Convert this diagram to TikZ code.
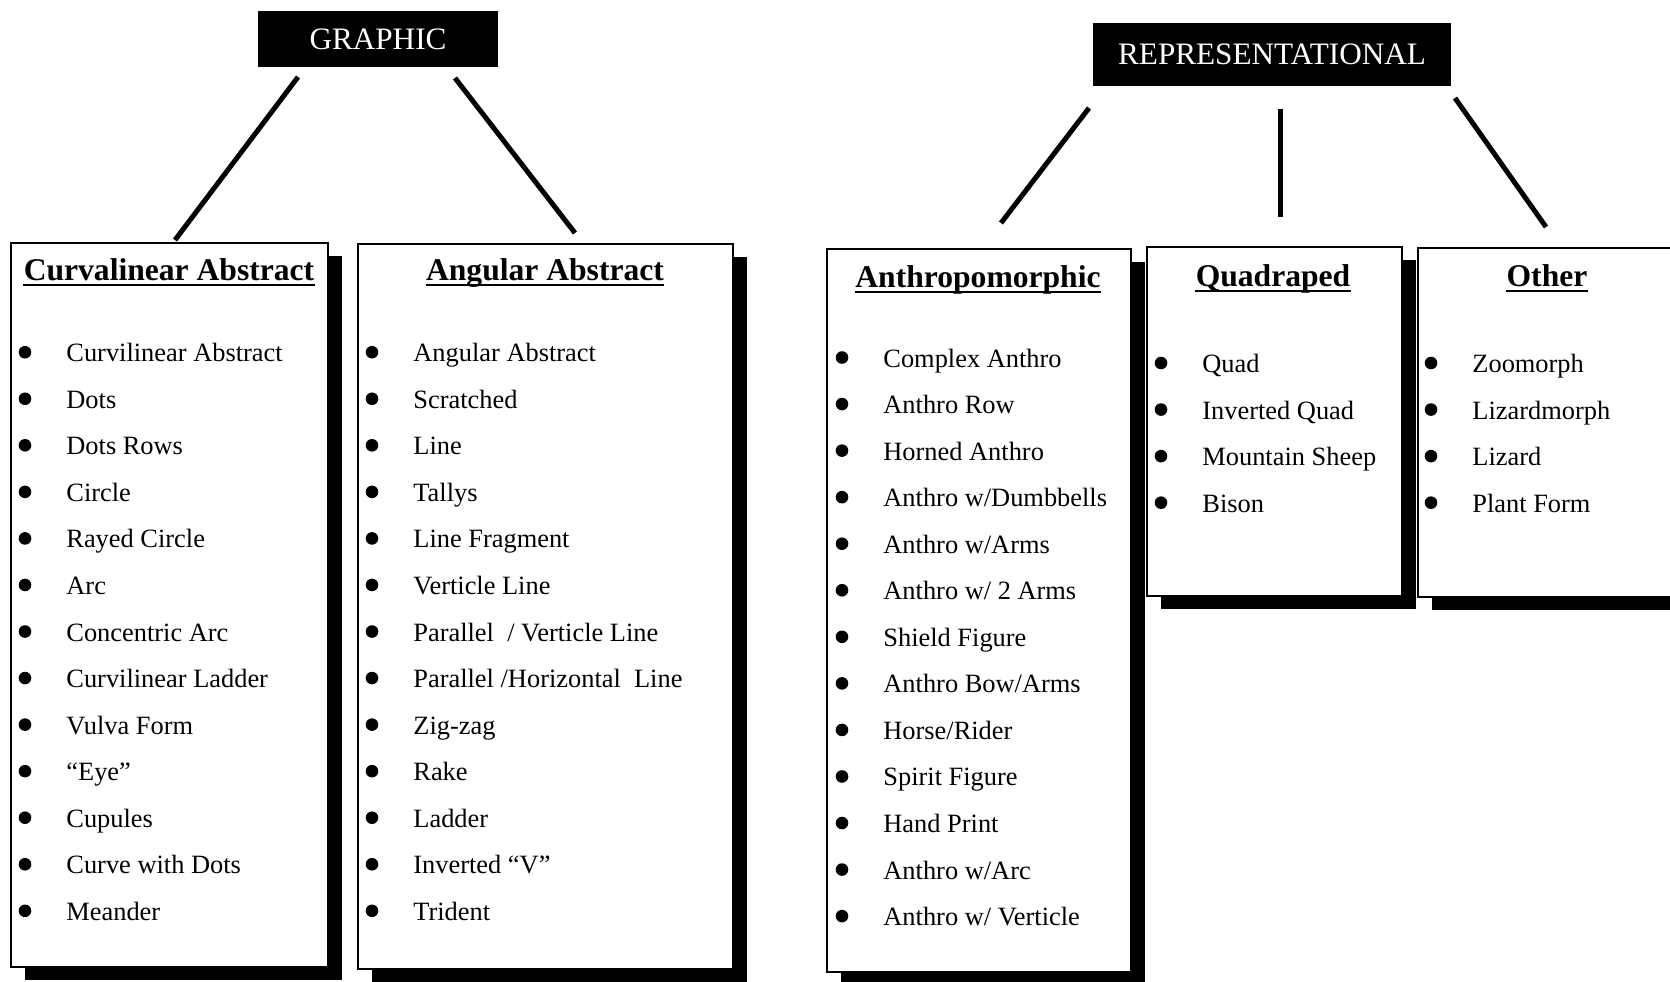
\documentclass[tikz,border=0pt]{standalone}
\usepackage{fontspec}
\setmainfont{Liberation Serif}
\usetikzlibrary{shadows,fit}

\begin{document}
\begin{tikzpicture}[x=0.5pt,y=-0.5pt]
			\tikzstyle{trait}=[line width=2.5pt]
			\tikzstyle{souligne}=[line width=1pt]
			\tikzstyle{categorie}=[fill=black,inner sep=0]
			\tikzstyle{nomcategorie}=[text=white,inner sep=0,font=\fontsize{15.6}{18}\selectfont]
			\tikzstyle{boite}=[draw,line width=1pt,fill=white,inner sep=0,drop shadow={shadow xshift=7pt,shadow yshift=-6.5pt,fill=black,opacity=1}]
			\tikzstyle{titre}=[anchor=base,inner sep=0,font=\fontsize{15.8}{18}\selectfont\bfseries]
			\tikzstyle{element}=[anchor=base west,inner sep=0,text height=9.5pt,text depth=0pt,font=\fontsize{13.2}{16}\selectfont,label={[circle,fill=black,inner sep=0,minimum size=6.3pt,anchor=center,xshift=-20.5pt]west:}]
			\useasboundingbox (0,0) rectangle (1670,981);
			\def\ColA{66}
			\def\ColB{413}
			\def\ColC{883}
			\def\ColD{1202}
			\def\ColE{1472}
			\def\LigneA{361.7}
			\def\LigneB{367}
			\def\LigneC{372.5}
			\def\Pas{46.55}
			% categories
			\node[categorie,fit={(258,11) (498,67)}] (graphic) {};
			\node[nomcategorie] (tgraphic) at (graphic.center) {GRAPHIC};
			\node[categorie,fit={(1093,23) (1451,86)}] (repres) {};
			\node[nomcategorie] (trepres) at (repres.center) {REPRESENTATIONAL};
			% boites
			\node[boite,fit={(11,243) (328,967)}] (curv) {};
			\node[boite,fit={(358,244) (733,969)}] (angu) {};
			\node[boite,fit={(827,249) (1131,972)}] (anthro) {};
			\node[boite,fit={(1147,247) (1402,596)}] (quad) {};
			\node[boite,fit={(1418,248) (1720,597)}] (autre) {};
			% traits
			\coordinate (graphic-g) at (298,77);
			\coordinate (graphic-d) at (455,78);
			\coordinate (curv-h) at (175,240);
			\coordinate (angu-h) at (575,233);
			\coordinate (repres-g) at (1089,108);
			\coordinate (repres-m) at (1280,109);
			\coordinate (repres-d) at (1455,98);
			\coordinate (anthro-h) at (1001,223);
			\coordinate (quad-h) at (1280,217);
			\coordinate (autre-h) at (1546,227);
			\draw[trait] (graphic-g)--(curv-h);
			\draw[trait] (graphic-d)--(angu-h);
			\draw[trait] (repres-g)--(anthro-h);
			\draw[trait] (repres-m)--(quad-h);
			\draw[trait] (repres-d)--(autre-h);
			% titres
			\node[titre] (tcurv) at (169,280) {Curvalinear Abstract};
			\node[titre] (tangu) at (545,280) {Angular Abstract};
			\node[titre] (tanthro) at (978,287) {Anthropomorphic};
			\node[titre] (tquad) at (1273,286) {Quadraped};
			\node[titre] (tautre) at (1547,286) {Other};
			\draw[souligne] ([yshift=-2.3pt]tcurv.base west)--([yshift=-2.3pt]tcurv.base east);
			\draw[souligne] ([yshift=-2.3pt]tangu.base west)--([yshift=-2.3pt]tangu.base east);
			\draw[souligne] ([yshift=-2.3pt]tanthro.base west)--([yshift=-2.3pt]tanthro.base east);
			\draw[souligne] ([yshift=-2.3pt]tquad.base west)--([yshift=-2.3pt]tquad.base east);
			\draw[souligne] ([yshift=-2.3pt]tautre.base west)--([yshift=-2.3pt]tautre.base east);
			% curvalinear
			\node[element] (curv1) at ({\ColA},{\LigneA+(0)*\Pas}) {Curvilinear Abstract};
			\node[element] (curv2) at ({\ColA},{\LigneA+(1)*\Pas}) {Dots};
			\node[element] (curv3) at ({\ColA},{\LigneA+(2)*\Pas}) {Dots Rows};
			\node[element] (curv4) at ({\ColA},{\LigneA+(3)*\Pas}) {Circle};
			\node[element] (curv5) at ({\ColA},{\LigneA+(4)*\Pas}) {Rayed Circle};
			\node[element] (curv6) at ({\ColA},{\LigneA+(5)*\Pas}) {Arc};
			\node[element] (curv7) at ({\ColA},{\LigneA+(6)*\Pas}) {Concentric Arc};
			\node[element] (curv8) at ({\ColA},{\LigneA+(7)*\Pas}) {Curvilinear Ladder};
			\node[element] (curv9) at ({\ColA},{\LigneA+(8)*\Pas}) {Vulva Form};
			\node[element] (curv10) at ({\ColA},{\LigneA+(9)*\Pas}) {“Eye”};
			\node[element] (curv11) at ({\ColA},{\LigneA+(10)*\Pas}) {Cupules};
			\node[element] (curv12) at ({\ColA},{\LigneA+(11)*\Pas}) {Curve with Dots};
			\node[element] (curv13) at ({\ColA},{\LigneA+(12)*\Pas}) {Meander};
			% angular
			\node[element] (angu1) at ({\ColB},{\LigneA+(0)*\Pas}) {Angular Abstract};
			\node[element] (angu2) at ({\ColB},{\LigneA+(1)*\Pas}) {Scratched};
			\node[element] (angu3) at ({\ColB},{\LigneA+(2)*\Pas}) {Line};
			\node[element] (angu4) at ({\ColB},{\LigneA+(3)*\Pas}) {Tallys};
			\node[element] (angu5) at ({\ColB},{\LigneA+(4)*\Pas}) {Line Fragment};
			\node[element] (angu6) at ({\ColB},{\LigneA+(5)*\Pas}) {Verticle Line};
			\node[element] (angu7) at ({\ColB},{\LigneA+(6)*\Pas}) {Parallel~~/ Verticle Line};
			\node[element] (angu8) at ({\ColB},{\LigneA+(7)*\Pas}) {Parallel /Horizontal~~Line};
			\node[element] (angu9) at ({\ColB},{\LigneA+(8)*\Pas}) {Zig-zag};
			\node[element] (angu10) at ({\ColB},{\LigneA+(9)*\Pas}) {Rake};
			\node[element] (angu11) at ({\ColB},{\LigneA+(10)*\Pas}) {Ladder};
			\node[element] (angu12) at ({\ColB},{\LigneA+(11)*\Pas}) {Inverted “V”};
			\node[element] (angu13) at ({\ColB},{\LigneA+(12)*\Pas}) {Trident};
			% anthropomorphic
			\node[element] (anthro1) at ({\ColC},{\LigneB+(0)*\Pas}) {Complex Anthro};
			\node[element] (anthro2) at ({\ColC},{\LigneB+(1)*\Pas}) {Anthro Row};
			\node[element] (anthro3) at ({\ColC},{\LigneB+(2)*\Pas}) {Horned Anthro};
			\node[element] (anthro4) at ({\ColC},{\LigneB+(3)*\Pas}) {Anthro w/Dumbbells};
			\node[element] (anthro5) at ({\ColC},{\LigneB+(4)*\Pas}) {Anthro w/Arms};
			\node[element] (anthro6) at ({\ColC},{\LigneB+(5)*\Pas}) {Anthro w/ 2 Arms};
			\node[element] (anthro7) at ({\ColC},{\LigneB+(6)*\Pas}) {Shield Figure};
			\node[element] (anthro8) at ({\ColC},{\LigneB+(7)*\Pas}) {Anthro Bow/Arms};
			\node[element] (anthro9) at ({\ColC},{\LigneB+(8)*\Pas}) {Horse/Rider};
			\node[element] (anthro10) at ({\ColC},{\LigneB+(9)*\Pas}) {Spirit Figure};
			\node[element] (anthro11) at ({\ColC},{\LigneB+(10)*\Pas}) {Hand Print};
			\node[element] (anthro12) at ({\ColC},{\LigneB+(11)*\Pas}) {Anthro w/Arc};
			\node[element] (anthro13) at ({\ColC},{\LigneB+(12)*\Pas}) {Anthro w/ Verticle};
			% quadraped
			\node[element] (quad1) at ({\ColD},{\LigneC+(0)*\Pas}) {Quad};
			\node[element] (quad2) at ({\ColD},{\LigneC+(1)*\Pas}) {Inverted Quad};
			\node[element] (quad3) at ({\ColD},{\LigneC+(2)*\Pas}) {Mountain Sheep};
			\node[element] (quad4) at ({\ColD},{\LigneC+(3)*\Pas}) {Bison};
			% other
			\node[element] (autre1) at ({\ColE},{\LigneC+(0)*\Pas}) {Zoomorph};
			\node[element] (autre2) at ({\ColE},{\LigneC+(1)*\Pas}) {Lizardmorph};
			\node[element] (autre3) at ({\ColE},{\LigneC+(2)*\Pas}) {Lizard};
			\node[element] (autre4) at ({\ColE},{\LigneC+(3)*\Pas}) {Plant Form};
		\end{tikzpicture}
\end{document}
